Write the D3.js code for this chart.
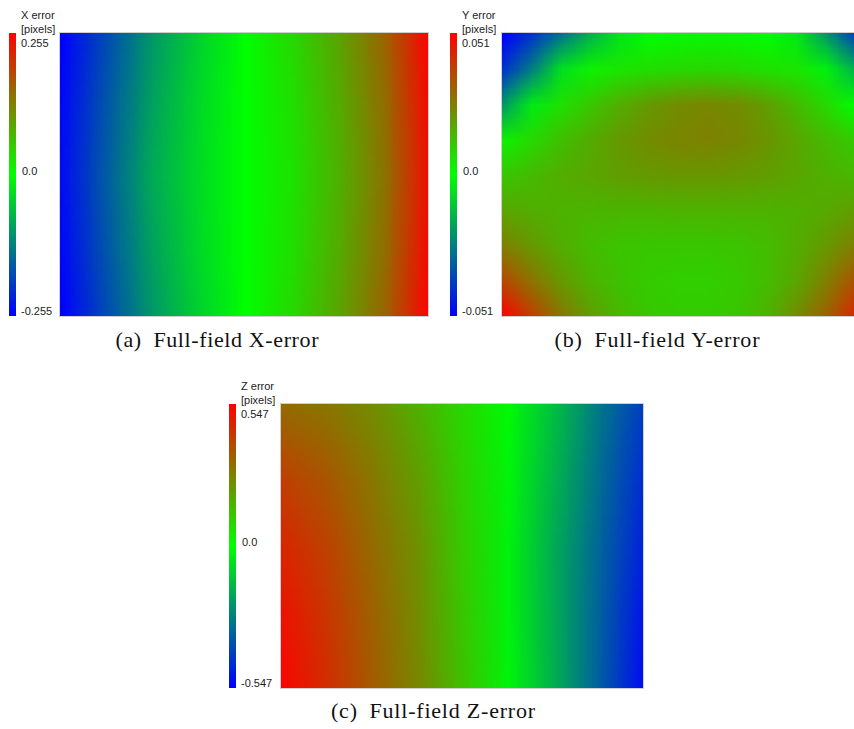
<!DOCTYPE html>
<html>
<head>
<meta charset="utf-8">
<script src="https://cdn.jsdelivr.net/npm/d3@7"></script>
<style>
  body { margin: 0; background: #fff; }
  .cb-label { font-family: "Liberation Sans", Arial, sans-serif; font-size: 11px; fill: #222; }
  .caption { font-family: "Liberation Serif", "Times New Roman", serif; font-size: 22px; fill: #111; }
</style>
</head>
<body>
<div id="chart"></div>
<script>
// error fields, rows top -> bottom, columns left -> right (pixels)
const xErrMax = 0.255;
const xErrRows = [
  [-0.255, -0.179, -0.102, -0.046, 0, 0.038, 0.089, 0.153, 0.255],
  [-0.247, -0.168, -0.092, -0.038, 0, 0.031, 0.082, 0.143, 0.247],
  [-0.242, -0.161, -0.084, -0.036, 0, 0.028, 0.077, 0.138, 0.242],
  [-0.247, -0.168, -0.092, -0.038, 0, 0.031, 0.082, 0.143, 0.247],
  [-0.255, -0.179, -0.102, -0.046, 0, 0.038, 0.089, 0.153, 0.255]
];

const yErrMax = 0.051;
const yErrRows = [
  [-0.051, -0.0408, -0.0281, -0.0153, -0.0051, 0, 0.001, 0.0015, 0.001, 0, -0.0041, -0.0204, -0.0383],
  [-0.0408, -0.0255, -0.0061, 0.0026, 0.0051, 0.0066, 0.0077, 0.0082, 0.0077, 0.0061, 0.0051, -0.0026, -0.0153],
  [-0.0204, -0.0041, 0.0061, 0.0112, 0.0163, 0.0204, 0.023, 0.024, 0.023, 0.0194, 0.0138, 0.0077, 0],
  [0.0026, 0.0077, 0.0128, 0.0168, 0.0204, 0.023, 0.0245, 0.025, 0.024, 0.0214, 0.0179, 0.0138, 0.0102],
  [0.0112, 0.0138, 0.0163, 0.0179, 0.0194, 0.0204, 0.0209, 0.0209, 0.0204, 0.0194, 0.0179, 0.0158, 0.0143],
  [0.0179, 0.0163, 0.0153, 0.0148, 0.0148, 0.0148, 0.0153, 0.0153, 0.0153, 0.0153, 0.0158, 0.0173, 0.0194],
  [0.0255, 0.0204, 0.0163, 0.0133, 0.0117, 0.0112, 0.0112, 0.0112, 0.0117, 0.0133, 0.0163, 0.0204, 0.0255],
  [0.0367, 0.0281, 0.0204, 0.0153, 0.0122, 0.0102, 0.0097, 0.0097, 0.0107, 0.0133, 0.0179, 0.0255, 0.0347],
  [0.051, 0.0383, 0.027, 0.0194, 0.0143, 0.0112, 0.0102, 0.0102, 0.0117, 0.0153, 0.023, 0.0316, 0.0434]
];

const zErrMax = 0.547;
const zErrRows = [
  [0.317, 0.295, 0.246, 0.170, 0.082, -0.011, -0.137, -0.290, -0.421],
  [0.410, 0.361, 0.290, 0.208, 0.098, -0.022, -0.159, -0.312, -0.454],
  [0.465, 0.405, 0.317, 0.235, 0.109, -0.027, -0.181, -0.328, -0.481],
  [0.509, 0.432, 0.339, 0.246, 0.120, -0.027, -0.175, -0.339, -0.509],
  [0.536, 0.449, 0.350, 0.257, 0.131, -0.022, -0.170, -0.345, -0.525]
];

const titles = ["X error", "Y error", "Z error"];
const tickLabels = [["0.255", "0.0", "-0.255"], ["0.051", "0.0", "-0.051"], ["0.547", "0.0", "-0.547"]];
const captions = ["(a)\u2002Full-field X-error", "(b)\u2002Full-field Y-error", "(c)\u2002Full-field Z-error"];

const width = 854, height = 729;

const svg = d3.select('#chart').append('svg')
    .attr('width', width)
    .attr('height', height);
const defs = svg.append('defs');

// layout of each panel: colour bar, heat map box, caption
const panels = [
  { rows: xErrRows, max: xErrMax, bar: 9,   map: [60, 428],  top: 33,  bottom: 316, capX: 217, capY: 347, capW: 203 },
  { rows: yErrRows, max: yErrMax, bar: 450, map: [502, 854], top: 33,  bottom: 316, capX: 657, capY: 347, capW: 205 },
  { rows: zErrRows, max: zErrMax, bar: 229, map: [281, 643], top: 404, bottom: 688, capX: 433, capY: 718, capW: 204 }
];

panels.forEach((p, i) => {
  const color = d3.scaleLinear()
      .domain([-p.max, 0, p.max])
      .range(['#0000ff', '#00ff00', '#ff0000']);

  const nRows = p.rows.length, nCols = p.rows[0].length;
  const xs = d3.scaleLinear().domain([0, nCols - 1]).range(p.map);
  const ys = d3.scaleLinear().domain([0, nRows - 1]).range([p.top, p.bottom]);

  // paint the grid one pixel per value, let the browser smooth it when scaled up
  const canvas = document.createElement('canvas');
  canvas.width = nCols;
  canvas.height = nRows;
  const ctx = canvas.getContext('2d');
  const img = ctx.createImageData(nCols, nRows);
  p.rows.forEach((row, r) => row.forEach((v, c) => {
    const rgb = d3.rgb(color(v));
    const k = (r * nCols + c) * 4;
    img.data[k] = rgb.r; img.data[k + 1] = rgb.g; img.data[k + 2] = rgb.b; img.data[k + 3] = 255;
  }));
  ctx.putImageData(img, 0, 0);

  defs.append('clipPath').attr('id', 'clip' + i)
    .append('rect')
      .attr('x', p.map[0]).attr('y', p.top)
      .attr('width', p.map[1] - p.map[0]).attr('height', p.bottom - p.top);

  const g = svg.append('g');

  // pixel centres sit on the grid nodes, so the image reaches half a cell past the box
  g.append('image')
      .attr('clip-path', `url(#clip${i})`)
      .attr('href', canvas.toDataURL())
      .attr('preserveAspectRatio', 'none')
      .attr('x', xs(-0.5)).attr('y', ys(-0.5))
      .attr('width', xs(nCols - 0.5) - xs(-0.5))
      .attr('height', ys(nRows - 0.5) - ys(-0.5));

  g.append('rect')
      .attr('x', p.map[0] - 0.5).attr('y', p.top - 0.5)
      .attr('width', p.map[1] - p.map[0] + 1).attr('height', p.bottom - p.top + 1)
      .attr('fill', 'none')
      .attr('stroke', '#cfcfcf');

  // colour bar
  const barScale = d3.scaleLinear().domain([-p.max, p.max]).range([p.bottom, p.top]);
  const grad = defs.append('linearGradient').attr('id', 'grad' + i)
      .attr('x1', 0).attr('y1', 1).attr('x2', 0).attr('y2', 0);
  [-p.max, 0, p.max].forEach((v, j) => {
    grad.append('stop').attr('offset', j / 2).attr('stop-color', color(v));
  });
  g.append('rect')
      .attr('x', p.bar).attr('y', barScale(p.max))
      .attr('width', 7).attr('height', barScale(-p.max) - barScale(p.max))
      .attr('fill', `url(#grad${i})`);

  const lx = p.bar + 12;
  g.append('text').attr('class', 'cb-label').attr('x', lx).attr('y', p.top - 14).text(titles[i]);
  g.append('text').attr('class', 'cb-label').attr('x', lx).attr('y', p.top).text('[pixels]');
  g.append('text').attr('class', 'cb-label').attr('x', lx).attr('y', barScale(p.max) + 14).text(tickLabels[i][0]);
  g.append('text').attr('class', 'cb-label').attr('x', lx + 1).attr('y', barScale(0)).text(tickLabels[i][1]);
  g.append('text').attr('class', 'cb-label').attr('x', lx).attr('y', barScale(-p.max) - 1).text(tickLabels[i][2]);

  svg.append('text')
      .attr('class', 'caption')
      .attr('x', p.capX - p.capW / 2).attr('y', p.capY)
      .attr('textLength', p.capW)
      .attr('lengthAdjust', 'spacing')
      .text(captions[i]);
});
</script>
</body>
</html>
